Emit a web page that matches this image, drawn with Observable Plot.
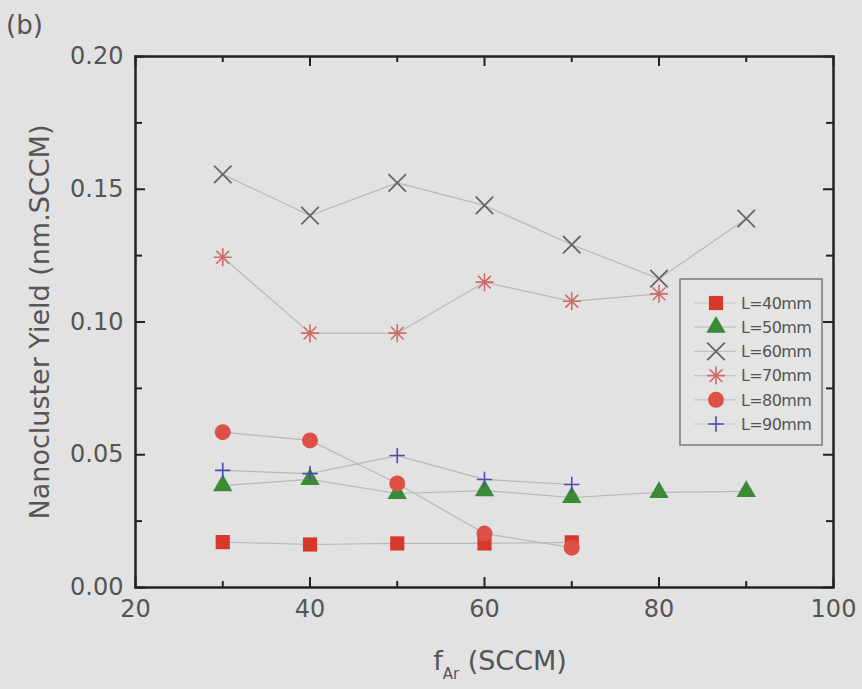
<!DOCTYPE html>
<html><head><meta charset="utf-8">
<script src="https://cdn.jsdelivr.net/npm/d3@7"></script>
<script src="https://cdn.jsdelivr.net/npm/@observablehq/plot@0.6"></script>
<style>
html,body{margin:0;padding:0;background:#e2e2e2;}
#chart{width:862px;height:689px;}
</style></head><body><div id="chart"></div>
<script>
// ---- data ----
const fAr = [30, 40, 50, 60, 70, 80, 90];
const names = ["L=40mm", "L=50mm", "L=60mm", "L=70mm", "L=80mm", "L=90mm"];
const L40 = [0.0171, 0.0162, 0.0166, 0.0166, 0.0170];
const L50 = [0.0384, 0.0407, 0.0354, 0.0365, 0.0339, 0.0358, 0.0362];
const L60 = [0.1556, 0.1401, 0.1524, 0.1439, 0.1291, 0.1163, 0.1389];
const L70 = [0.1244, 0.0958, 0.0958, 0.1150, 0.1078, 0.1106];
const L80 = [0.0585, 0.0554, 0.0392, 0.0203, 0.0150];
const L90 = [0.0441, 0.0429, 0.0497, 0.0407, 0.0388];
const xTicks = [20, 40, 60, 80, 100];
const xMinor = [30, 50, 70, 90];
const yTicks = [0, 0.05, 0.10, 0.15, 0.20];
const yMinor = [0.025, 0.075, 0.125, 0.175];
const yTickLabels = ["0.00", "0.05", "0.10", "0.15", "0.20"];

// custom 8-arm asterisk
const asterisk8 = {
  draw(ctx, size) {
    const r = Math.sqrt(size / Math.PI);
    for (const a of [0, 45, 90, 135]) {
      const t = a * Math.PI / 180, c = Math.cos(t) * r, s = Math.sin(t) * r;
      ctx.moveTo(-c, -s); ctx.lineTo(c, s);
    }
  }
};

const styles = [
  {symbol: "square", r: 8, fill: "#d8372c", stroke: "none"},
  {symbol: "triangle", r: 7.2, fill: "#3a8a36", stroke: "none"},
  {symbol: "times", r: 8, fill: "none", stroke: "#666666", sw: 1.8},
  {symbol: asterisk8, r: 9, fill: "none", stroke: "#cf6a6a", sw: 1.6},
  {symbol: "circle", r: 8, fill: "#dc5045", stroke: "none"},
  {symbol: "plus", r: 5, fill: "none", stroke: "#4b4bb0", sw: 1.6}
];
const allValues = [L40, L50, L60, L70, L80, L90];
const rows = allValues.flatMap((vals, k) => vals.map((v, i) => ({name: names[k], x: fAr[i], y: v})));

// ---- layout ----
const W = 862, H = 689, mL = 135, mR = 29, mT = 56, mB = 102;
const fw = W - mL - mR, fh = H - mT - mB;
const ink = "#222", txt = "#555";
const font = "DejaVu Sans";

const marks = [
  Plot.line(rows, {x: "x", y: "y", z: "name", stroke: "#b9b9b9", strokeWidth: 1.2}),
  ...names.map((n, k) => {
    const s = styles[k];
    return Plot.dot(rows.filter(d => d.name === n), {
      x: "x", y: "y", symbol: s.symbol, r: s.r,
      fill: s.fill, stroke: s.stroke, strokeWidth: s.sw || 1
    });
  }),
  // inward ticks, all four sides
  Plot.ruleX(xTicks, {stroke: ink, strokeWidth: 2, insetTop: fh - 10}),
  Plot.ruleX(xTicks, {stroke: ink, strokeWidth: 2, insetBottom: fh - 10}),
  Plot.ruleX(xMinor, {stroke: ink, strokeWidth: 2, insetTop: fh - 6}),
  Plot.ruleX(xMinor, {stroke: ink, strokeWidth: 2, insetBottom: fh - 6}),
  Plot.ruleY(yTicks, {stroke: ink, strokeWidth: 2, insetRight: fw - 10}),
  Plot.ruleY(yTicks, {stroke: ink, strokeWidth: 2, insetLeft: fw - 10}),
  Plot.ruleY(yMinor, {stroke: ink, strokeWidth: 2, insetRight: fw - 7}),
  Plot.ruleY(yMinor, {stroke: ink, strokeWidth: 2, insetLeft: fw - 7}),
  Plot.axisX(xTicks, {tickSize: 0, tickPadding: 12, fontSize: 24, label: null, fill: txt}),
  Plot.axisY(yTicks, {tickSize: 0, tickPadding: 12, fontSize: 24, label: null, fill: txt,
    tickFormat: d => yTickLabels[yTicks.indexOf(d)]}),
  Plot.frame({stroke: ink, strokeWidth: 2.5})
];

const svgEl = Plot.plot({
  width: W, height: H, marginLeft: mL, marginRight: mR, marginTop: mT, marginBottom: mB,
  style: {background: "transparent", fontFamily: font, color: txt},
  x: {domain: [20, 100]},
  y: {domain: [0, 0.2]},
  marks
});
document.getElementById("chart").appendChild(svgEl);

// ---- titles ----
const svg = d3.select(svgEl);
svg.append("text").attr("x", 6).attr("y", 34).attr("font-size", 26).attr("fill", txt)
  .attr("text-anchor", "start").attr("font-family", font).text("(b)");
svg.append("text").attr("transform", "translate(49,322) rotate(-90)")
  .attr("text-anchor", "middle").attr("font-size", 27).attr("fill", txt)
  .attr("font-family", font).text("Nanocluster Yield (nm.SCCM)");
const xt = svg.append("text").attr("x", 500).attr("y", 670).attr("text-anchor", "middle")
  .attr("font-size", 27).attr("fill", txt).attr("font-family", font);
xt.append("tspan").text("f");
xt.append("tspan").attr("font-size", 15).attr("dy", 9).text("Ar");
xt.append("tspan").attr("dy", -9).text(" (SCCM)");

// ---- legend ----
const lg = svg.append("g");
lg.append("rect").attr("x", 680).attr("y", 279).attr("width", 142).attr("height", 166)
  .attr("fill", "#e4e4e4").attr("stroke", "#777").attr("stroke-width", 1.5);
names.forEach((n, k) => {
  const y = 303 + k * 24.2, s = styles[k];
  lg.append("line").attr("x1", 694).attr("x2", 736).attr("y1", y).attr("y2", y)
    .attr("stroke", "#c4c4c4").attr("stroke-width", 1.2);
  const sym = typeof s.symbol === "string"
    ? {square: d3.symbolSquare, triangle: d3.symbolTriangle, times: d3.symbolTimes,
       circle: d3.symbolCircle, plus: d3.symbolPlus}[s.symbol]
    : s.symbol;
  lg.append("path").attr("transform", `translate(716,${y})`)
    .attr("d", d3.symbol(sym, Math.PI * s.r * s.r)())
    .attr("fill", s.fill).attr("stroke", s.stroke).attr("stroke-width", s.sw || 1);
  lg.append("text").attr("x", 741).attr("y", y).attr("dy", "0.36em")
    .attr("text-anchor", "start")
    .attr("font-size", 16).attr("fill", txt).attr("font-family", font)
    .attr("letter-spacing", -0.6).text(n);
});
</script></body></html>
